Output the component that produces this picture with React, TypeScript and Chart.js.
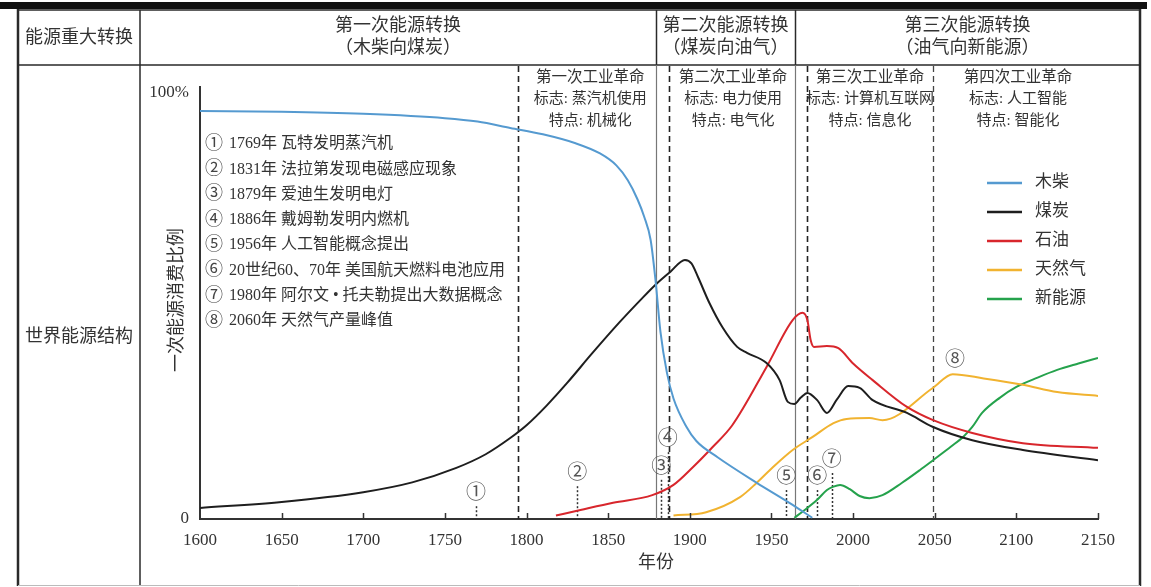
import React, { useEffect, useRef } from "react";
import { Chart, registerables } from "chart.js";

Chart.register(...registerables);

const W = 1151;
const H = 587;

// ---------- data ----------
const xTickValues = [1600, 1650, 1700, 1750, 1800, 1850, 1900, 1950, 2000, 2050, 2100, 2150];
const yTickValues = [0, 100];

const seriesNames = ["木柴", "煤炭", "石油", "天然气", "新能源"];
const seriesColors = ["#559ad0", "#1e1e1e", "#d8262c", "#f1b330", "#25a24c"];

const woodYears = [1600, 1650, 1700, 1750, 1770, 1790, 1810, 1830, 1845, 1855, 1862, 1868, 1872, 1876, 1879, 1882, 1886, 1890, 1898, 1904, 1917, 1941, 1961, 1975];
const woodShare = [95.8, 95.6, 95.1, 94.1, 93.3, 91.8, 90.3, 88.2, 85.8, 83.0, 79.5, 75.0, 71.0, 65.5, 56.0, 44.0, 34.3, 28.3, 21.6, 18.3, 14.5, 8.5, 3.8, 0.3];

const coalYears = [1600, 1650, 1700, 1730, 1757, 1775, 1790, 1800, 1812, 1825, 1840, 1857, 1870, 1879, 1888, 1897, 1901, 1905, 1912, 1920, 1929, 1935, 1947, 1955, 1960, 1964, 1968, 1972, 1978, 1984, 1990, 1997, 2004, 2012, 2033, 2049, 2073, 2104, 2150];
const coalShare = [2.6, 4.0, 6.3, 8.6, 12.0, 15.2, 19.0, 22.0, 26.5, 32.0, 38.8, 46.2, 51.5, 55.0, 58.0, 60.8, 60.0, 56.8, 50.7, 45.0, 40.4, 39.0, 36.6, 32.6, 27.5, 27.0, 28.5, 29.6, 27.9, 24.9, 28.0, 31.2, 30.8, 27.9, 24.9, 21.6, 18.5, 16.2, 13.8];

const oilYears = [1818, 1833, 1853, 1877, 1890, 1902, 1914, 1926, 1947, 1963, 1969, 1972, 1974, 1976, 1984, 1991, 2000, 2012, 2033, 2049, 2073, 2104, 2150];
const oilShare = [0.8, 2.1, 3.8, 5.6, 8.0, 12.2, 16.9, 22.0, 35.7, 46.7, 48.4, 46.7, 42.0, 40.4, 40.6, 40.1, 36.5, 32.6, 26.3, 23.2, 20.2, 17.8, 16.7];

const gasYears = [1890, 1910, 1931, 1941, 1951, 1963, 1975, 1988, 1996, 2010, 2018, 2049, 2061, 2080, 2104, 2125, 2150];
const gasShare = [0.8, 1.6, 5.2, 8.5, 12.2, 16.2, 19.2, 22.5, 23.5, 23.7, 23.2, 30.8, 34.0, 33.0, 31.5, 29.8, 28.9];

const newYears = [1964, 1970, 1978, 1984, 1988, 1992, 1998, 2004, 2010, 2018, 2030, 2041, 2049, 2060, 2068, 2073, 2079, 2090, 2100, 2113, 2125, 2138, 2150];
const newShare = [0.3, 2.0, 4.5, 6.8, 7.6, 8.0, 7.0, 5.4, 4.9, 5.6, 8.5, 11.5, 13.8, 17.0, 19.5, 21.6, 24.9, 28.5, 31.0, 33.2, 35.0, 36.5, 37.8];

const seriesYears = [woodYears, coalYears, oilYears, gasYears, newYears];
const seriesShares = [woodShare, coalShare, oilShare, gasShare, newShare];

// header / annotations
const rowHeaders = ["能源重大转换", "世界能源结构"];
const transitionTitles = [
  ["第一次能源转换", "（木柴向煤炭）"],
  ["第二次能源转换", "（煤炭向油气）"],
  ["第三次能源转换", "（油气向新能源）"],
];
const transitionYears = [1879.3, 1964.4];
const revolutionYears = [1795, 1887, 1972, 2049];
const revolutionCenters = [1839, 1926.5, 2010.4, 2101];
const revolutionTexts = [
  ["第一次工业革命", "标志: 蒸汽机使用", "特点: 机械化"],
  ["第二次工业革命", "标志: 电力使用", "特点: 电气化"],
  ["第三次工业革命", "标志: 计算机互联网", "特点: 信息化"],
  ["第四次工业革命", "标志: 人工智能", "特点: 智能化"],
];
const eventMarks = ["①", "②", "③", "④", "⑤", "⑥", "⑦", "⑧"];
const eventTexts = [
  "1769年 瓦特发明蒸汽机",
  "1831年 法拉第发现电磁感应现象",
  "1879年 爱迪生发明电灯",
  "1886年 戴姆勒发明内燃机",
  "1956年 人工智能概念提出",
  "20世纪60、70年 美国航天燃料电池应用",
  "1980年 阿尔文 • 托夫勒提出大数据概念",
  "2060年 天然气产量峰值",
];
const markerYears = [1769, 1831, 1882.5, 1886.5, 1959, 1978, 1987];
const markerTops = [3.0, 7.7, 9.2, 15.7, 6.8, 6.8, 10.8];
const peakMarkYear = 2062.4;
const peakMarkShare = 37.1;

const yTitle = "一次能源消费比例";
const xTitle = "年份";

// ---------- styles ----------
const FAMILY = '"Liberation Serif", "Noto Sans CJK SC", serif';
const TEXT = "#333333";
const font = (s: number) => `${s}px ${FAMILY}`;

const decorPlugin = {
  id: "decor",
  beforeDraw(chart: any) {
    const ctx = chart.ctx as CanvasRenderingContext2D;
    ctx.save();
    ctx.fillStyle = "#ffffff";
    ctx.fillRect(0, 0, W, H);
    ctx.fillStyle = "#111111";
    ctx.fillRect(0, 2, 1147, 7);
    ctx.strokeStyle = "#2a2a2a";
    ctx.lineWidth = 2.5;
    ctx.beginPath();
    ctx.moveTo(18, 9);
    ctx.lineTo(18, 586);
    ctx.moveTo(1140, 9);
    ctx.lineTo(1140, 586);
    ctx.stroke();
    ctx.lineWidth = 1.5;
    ctx.beginPath();
    ctx.moveTo(18, 10);
    ctx.lineTo(1140, 10);
    ctx.moveTo(18, 65);
    ctx.lineTo(1140, 65);
    ctx.moveTo(140, 10);
    ctx.lineTo(140, 586);
    ctx.stroke();
    ctx.strokeStyle = "#bbbbbb";
    ctx.lineWidth = 1;
    ctx.beginPath();
    ctx.moveTo(18, 585.5);
    ctx.lineTo(1140, 585.5);
    ctx.stroke();
    ctx.restore();
  },
  beforeDatasetsDraw(chart: any) {
    const ctx = chart.ctx as CanvasRenderingContext2D;
    const xs = chart.scales.x;
    const ys = chart.scales.y;
    const bottom = chart.chartArea.bottom;
    ctx.save();
    transitionYears.forEach((yr) => {
      const x = Math.round(xs.getPixelForValue(yr)) + 0.5;
      ctx.strokeStyle = "#2a2a2a";
      ctx.lineWidth = 1.5;
      ctx.beginPath();
      ctx.moveTo(x, 10);
      ctx.lineTo(x, 65);
      ctx.stroke();
      ctx.strokeStyle = "#777777";
      ctx.lineWidth = 1.2;
      ctx.beginPath();
      ctx.moveTo(x, 65);
      ctx.lineTo(x, bottom);
      ctx.stroke();
    });
    ctx.setLineDash([6, 4]);
    revolutionYears.forEach((yr, i) => {
      const x = Math.round(xs.getPixelForValue(yr)) + 0.5;
      ctx.strokeStyle = i === 3 ? "#444444" : "#222222";
      ctx.lineWidth = i === 3 ? 1.3 : 1.6;
      ctx.beginPath();
      ctx.moveTo(x, 66);
      ctx.lineTo(x, bottom);
      ctx.stroke();
    });
    ctx.setLineDash([2, 2]);
    ctx.strokeStyle = "#333333";
    ctx.lineWidth = 1.5;
    markerYears.forEach((yr, i) => {
      const x = Math.round(xs.getPixelForValue(yr)) + 0.5;
      ctx.beginPath();
      ctx.moveTo(x, ys.getPixelForValue(markerTops[i]));
      ctx.lineTo(x, bottom);
      ctx.stroke();
    });
    ctx.restore();
  },
  afterDraw(chart: any) {
    const ctx = chart.ctx as CanvasRenderingContext2D;
    const xs = chart.scales.x;
    const ys = chart.scales.y;
    const { left, top, bottom } = chart.chartArea;
    ctx.save();
    ctx.strokeStyle = "#333333";
    ctx.lineWidth = 2;
    ctx.beginPath();
    ctx.moveTo(left, top - 7);
    ctx.lineTo(left, top + 1);
    ctx.stroke();
    ctx.lineWidth = 1.5;
    xTickValues.forEach((v) => {
      if (v === xTickValues[0]) return;
      const x = Math.round(xs.getPixelForValue(v)) + 0.5;
      ctx.beginPath();
      ctx.moveTo(x, bottom);
      ctx.lineTo(x, bottom - 6);
      ctx.stroke();
    });

    ctx.fillStyle = TEXT;
    ctx.textAlign = "center";
    ctx.textBaseline = "middle";
    ctx.font = font(18);
    ctx.fillText(rowHeaders[0], 79, 38);
    ctx.fillText(rowHeaders[1], 79, 337);
    const xa = Math.round(xs.getPixelForValue(transitionYears[0]));
    const xb = Math.round(xs.getPixelForValue(transitionYears[1]));
    const cols = [(140 + xa) / 2, (xa + xb) / 2, (xb + 1140) / 2];
    transitionTitles.forEach((t, i) => {
      ctx.fillText(t[0], cols[i], 26);
      ctx.fillText(t[1], cols[i], 48);
    });
    ctx.font = font(15.5);
    revolutionTexts.forEach((lines, i) => {
      const x = xs.getPixelForValue(revolutionCenters[i]);
      lines.forEach((s, j) => {
        ctx.font = font(j === 0 ? 15.5 : 15);
        ctx.fillText(s, x, 78 + j * 21.5);
      });
    });
    ctx.textAlign = "left";
    eventTexts.forEach((s, i) => {
      const y = 144 + i * 25.3;
      ctx.font = font(18);
      ctx.fillStyle = "#444444";
      ctx.fillText(eventMarks[i], 205, y);
      ctx.font = font(16);
      ctx.fillStyle = TEXT;
      ctx.fillText(s, 229, y);
    });
    ctx.textAlign = "center";
    ctx.font = font(20);
    ctx.fillStyle = "#555555";
    markerYears.forEach((yr, i) => {
      const x = xs.getPixelForValue(yr);
      ctx.fillText(eventMarks[i], x, ys.getPixelForValue(markerTops[i]) - 12);
    });
    ctx.fillText(eventMarks[7], xs.getPixelForValue(peakMarkYear), ys.getPixelForValue(peakMarkShare));
    seriesNames.forEach((name, i) => {
      const y = 183 + i * 29;
      ctx.strokeStyle = seriesColors[i];
      ctx.lineWidth = 2.5;
      ctx.beginPath();
      ctx.moveTo(987, y);
      ctx.lineTo(1022, y);
      ctx.stroke();
      ctx.fillStyle = TEXT;
      ctx.textAlign = "left";
      ctx.font = font(17);
      ctx.fillText(name, 1035, y);
    });
    ctx.textAlign = "center";
    ctx.font = font(18);
    ctx.fillText(xTitle, 656, 563);
    ctx.save();
    ctx.translate(177, 300);
    ctx.rotate(-Math.PI / 2);
    ctx.font = font(18);
    ctx.fillText(yTitle, 0, 0);
    ctx.restore();
    ctx.restore();
  },
};

export default function App() {
  const ref = useRef<HTMLCanvasElement | null>(null);
  useEffect(() => {
    if (!ref.current) return;
    const datasets = seriesNames.map((name, i) => ({
      label: name,
      data: seriesYears[i].map((x, j) => ({ x, y: seriesShares[i][j] })),
      borderColor: seriesColors[i],
      backgroundColor: seriesColors[i],
      borderWidth: 2,
      pointRadius: 0,
      fill: false,
      cubicInterpolationMode: "monotone" as const,
    }));
    const chart = new Chart(ref.current, {
      type: "line",
      data: { datasets },
      plugins: [decorPlugin],
      options: {
        responsive: false,
        animation: false,
        layout: { padding: { top: 93, right: 53, left: 0, bottom: 0 } },
        plugins: {
          legend: { display: false },
          tooltip: { enabled: false },
          title: { display: false },
        },
        scales: {
          x: {
            type: "linear",
            min: xTickValues[0],
            max: xTickValues[xTickValues.length - 1],
            afterBuildTicks: (s: any) => {
              s.ticks = xTickValues.map((v) => ({ value: v }));
            },
            afterFit: (s: any) => {
              s.height = 68;
            },
            ticks: {
              autoSkip: false,
              maxRotation: 0,
              padding: 11,
              color: TEXT,
              font: { family: FAMILY, size: 17 },
              callback: (v: any) => String(v),
            },
            grid: { display: false, drawTicks: false },
            border: { display: true, color: "#333333", width: 2 },
          },
          y: {
            type: "linear",
            min: 0,
            max: 100,
            afterBuildTicks: (s: any) => {
              s.ticks = yTickValues.map((v) => ({ value: v }));
            },
            afterFit: (s: any) => {
              s.width = 200;
            },
            ticks: {
              padding: 11,
              color: TEXT,
              font: { family: FAMILY, size: 17 },
              callback: (v: any) => (v === 100 ? "100%" : "0"),
            },
            grid: { display: false, drawTicks: false },
            border: { display: true, color: "#333333", width: 2 },
          },
        },
      },
    });
    return () => chart.destroy();
  }, []);
  return (
    <div style={{ position: "absolute", left: 0, top: 0, width: W, height: H }}>
      <canvas ref={ref} width={W} height={H} style={{ display: "block" }} />
    </div>
  );
}
